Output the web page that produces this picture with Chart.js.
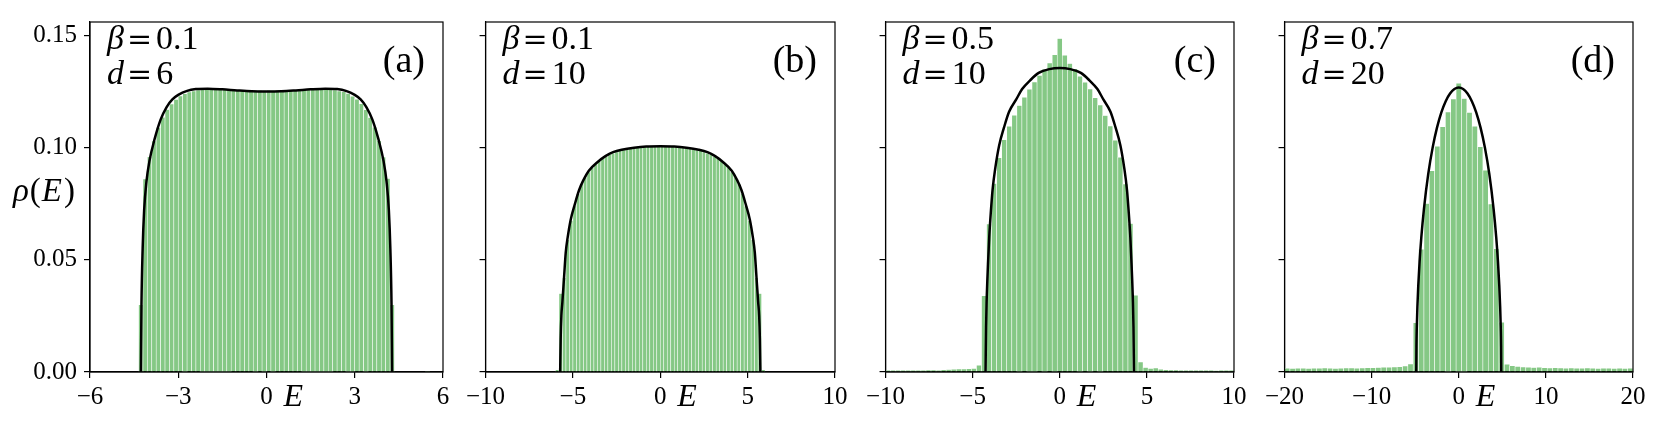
<!DOCTYPE html>
<html><head><meta charset="utf-8">
<script src="https://cdn.jsdelivr.net/npm/chart.js@4.4.1/dist/chart.umd.min.js"></script>
<style>
html,body{margin:0;padding:0;background:#fff;}
body{width:1661px;height:428px;overflow:hidden;position:relative;}
canvas{position:absolute;top:0;}
</style></head>
<body>
<canvas id="ca"></canvas><canvas id="cb"></canvas><canvas id="cc"></canvas><canvas id="cd"></canvas>
<script>
// ---------- data ----------
const yTicks = [0, 0.05, 0.10, 0.15];
const yTickLabels = ['0.00', '0.05', '0.10', '0.15'];

const xTicksA = [-6, -3, 0, 3, 6];
const xTickLabelsA = ['\u22126', '\u22123', '0', '3', '6'];
const xTicksB = [-10, -5, 0, 5, 10];
const xTickLabelsB = ['\u221210', '\u22125', '0', '5', '10'];
const xTicksC = [-10, -5, 0, 5, 10];
const xTickLabelsC = ['\u221210', '\u22125', '0', '5', '10'];
const xTicksD = [-20, -10, 0, 10, 20];
const xTickLabelsD = ['\u221220', '\u221210', '0', '10', '20'];

// histogram (a): bins start at -4.35, width 0.15
const binStartA = -4.35, binWidthA = 0.15;
const heightsA = [0.030,0.086,0.096,0.103,0.109,0.1135,0.117,0.1195,0.1215,0.123,0.124,0.1248,0.1253,0.1257,0.1259,0.126,0.126,0.1259,0.1259,0.1258,0.1258,0.1257,0.1257,0.1256,0.1256,0.1256,0.1255,0.1256,0.1255,
  0.1256,0.1255,0.1256,0.1256,0.1257,0.1256,0.1257,0.1257,0.1258,0.1258,0.1259,0.1259,0.126,0.126,0.1259,0.1257,0.1253,0.1249,0.1241,0.1229,0.1216,0.1196,0.1169,0.1134,0.1091,0.1031,0.0958,0.0862,0.030,
  null,null,null,null,null,null,null,0.0004];
const curveXA = [-4.27,-4.25,-4.21,-4.16,-4.08,-3.98,-3.8,-3.6,-3.4,-3.2,-3.0,-2.7,-2.4,-2.0,-1.5,-1.0,-0.5,0,0.5,1.0,1.5,2.0,2.4,2.7,3.0,3.2,3.4,3.6,3.8,3.98,4.08,4.16,4.21,4.25,4.27];
const curveYA = [0,0.03,0.055,0.072,0.085,0.094,0.104,0.1125,0.118,0.1215,0.1235,0.1253,0.1261,0.1263,0.126,0.1255,0.1251,0.125,0.1251,0.1255,0.126,0.1263,0.1261,0.1253,0.1235,0.1215,0.118,0.1125,0.104,0.094,0.085,0.072,0.055,0.03,0];

// histogram (b): bins start at -6.0, width 0.2
const binStartB = -6.0, binWidthB = 0.2;
const heightsB = [0.001,0.035,0.042,0.059,0.0675,0.074,0.0795,0.0838,0.0868,0.0892,0.0911,0.0927,0.094,0.0951,0.096,0.0968,0.0975,0.0981,0.0986,0.099,0.0994,0.0997,0.0999,0.1001,0.1002,0.1003,0.1004,0.1004,0.1005,0.1005,
  0.1005,0.1005,0.1004,0.1004,0.1003,0.1002,0.1001,0.0999,0.0997,0.0994,0.099,0.0986,0.0981,0.0975,0.0968,0.096,0.0951,0.094,0.0927,0.0911,0.0892,0.0868,0.0838,0.0795,0.074,0.0675,0.059,0.042,0.035,0.001];
const curveXB = [-5.73,-5.7,-5.66,-5.6,-5.5,-5.41,-5.3,-5.13,-4.9,-4.65,-4.4,-4.09,-3.6,-3.14,-2.7,-2.2,-1.5,-0.8,0,0.8,1.5,2.2,2.7,3.14,3.6,4.09,4.4,4.65,4.9,5.13,5.3,5.41,5.5,5.6,5.66,5.7,5.73];
const curveYB = [0,0.015,0.025,0.0314,0.043,0.0533,0.06,0.0678,0.0745,0.081,0.0855,0.0897,0.0935,0.0962,0.098,0.0991,0.1,0.1005,0.1006,0.1005,0.1,0.0991,0.098,0.0962,0.0935,0.0897,0.0855,0.081,0.0745,0.0678,0.06,0.0533,0.043,0.0314,0.025,0.015,0];

// histogram (c): 69 bins on [-10, 10]
const binStartC = -10, binWidthC = 20 / 69;
const heightsC = [0.0007,0.0008,0.0007,0.0008,0.0008,0.0007,0.0008,0.0008,0.0009,0.0009,0.0008,0.001,0.0011,0.0012,0.0013,0.0014,0.0015,
  0.0016,0.003,
  0.034,0.066,0.084,0.0955,0.1035,0.1095,0.1145,0.1188,0.1225,0.126,0.1293,0.1322,0.135,0.1377,0.1414,
  0.1486,
  0.1412,0.1375,0.1352,0.1318,0.1291,0.1262,0.1223,0.119,0.1143,0.1097,0.1033,0.0957,0.0838,0.0662,0.0342,
  0.0045,0.002,
  0.0016,0.0018,0.0012,0.001,0.0009,0.0009,0.0008,0.0008,0.0007,0.0008,0.0007,0.0007,0.0007,0.0006,0.0007,0.0007,0.0007];
const curveXC = [-4.26,-4.23,-4.2,-4.12,-4.05,-3.95,-3.86,-3.7,-3.48,-3.2,-2.91,-2.5,-2.16,-1.7,-1.21,-0.6,0,0.6,1.21,1.7,2.16,2.5,2.91,3.2,3.48,3.7,3.86,3.95,4.05,4.12,4.2,4.23,4.26];
const curveYC = [0,0.02,0.031,0.048,0.06,0.072,0.081,0.091,0.101,0.109,0.116,0.1215,0.1261,0.13,0.1333,0.135,0.1355,0.135,0.1333,0.13,0.1261,0.1215,0.116,0.109,0.101,0.091,0.081,0.072,0.06,0.048,0.031,0.02,0];

// histogram (d): 65 bins on [-20, 20]
const binStartD = -20, binWidthD = 40 / 65;
const heightsD = [0.0017,0.0016,0.0017,0.0017,0.0016,0.0017,0.0017,0.0018,0.0017,0.0016,0.0017,0.0018,0.0018,0.0017,0.0018,0.0019,0.0019,0.002,0.0021,0.0021,0.0022,0.0024,
  0.0027,0.0036,0.022,0.0547,0.0751,0.0897,0.1006,0.1093,0.1159,0.1217,0.1287,
  0.1219,0.1157,0.1095,0.1004,0.0899,0.0749,0.0549,0.0222,0.0035,0.0028,
  0.0025,0.0022,0.0021,0.002,0.0021,0.0019,0.0018,0.0019,0.0018,0.0017,0.0018,0.0017,0.0017,0.0018,0.0017,0.0016,0.0017,0.0017,0.0016,0.0017,0.0016,0.0017];
const curveXD = [-4.88,-4.86,-4.82,-4.75,-4.65,-4.5,-4.3,-4.0,-3.5,-3.0,-2.5,-2.0,-1.5,-1.0,-0.5,0,0.5,1.0,1.5,2.0,2.5,3.0,3.5,4.0,4.3,4.5,4.65,4.75,4.82,4.86,4.88];
const curveYD = [0,0.0114,0.0198,0.0291,0.0385,0.0491,0.06,0.0726,0.0884,0.1,0.1089,0.1157,0.1207,0.1241,0.1261,0.1268,0.1261,0.1241,0.1207,0.1157,0.1089,0.1,0.0884,0.0726,0.06,0.0491,0.0385,0.0291,0.0198,0.0114,0];

// ---------- drawing ----------
const SERIF = '"Liberation Serif", "Times New Roman", serif';
const MATHS = '"DejaVu Serif", serif';
const GREEN = 'rgba(44,160,44,0.58)';

function drawRuns(ctx, runs, x, y, size) {
  let cx = x;
  for (const r of runs) {
    ctx.font = (r.it ? 'italic ' : '') + (r.size || size) + 'px ' + (r.fam || SERIF);
    ctx.fillText(r.t, cx, y);
    cx += ctx.measureText(r.t).width + (r.gap || 0);
  }
}

const panelText = {
  id: 'panelText',
  afterDraw(chart, args, o) {
    const ctx = chart.ctx, ca = chart.chartArea, xs = chart.scales.x;
    ctx.save();
    ctx.strokeStyle = '#000';
    ctx.lineWidth = 1.2;
    ctx.strokeRect(ca.left, ca.top, ca.right - ca.left, ca.bottom - ca.top);
    ctx.fillStyle = '#000';
    ctx.textBaseline = 'alphabetic';
    ctx.textAlign = 'left';
    // annotations
    drawRuns(ctx, [{t: '\u03B2', it: true, gap: 3, size: 34}, {t: '=', gap: 4, fam: MATHS, size: 30}, {t: o.beta}], ca.left + 17, 49, 34);
    drawRuns(ctx, [{t: 'd', it: true, gap: 3}, {t: '=', gap: 4, fam: MATHS, size: 30}, {t: o.d}], ca.left + 17, 84, 34);
    ctx.font = '38px ' + SERIF;
    ctx.textAlign = 'right';
    ctx.fillText(o.tag, ca.right - 18, 72);
    // x label
    ctx.textAlign = 'left';
    ctx.font = 'italic 32px ' + SERIF;
    ctx.fillText('E', xs.getPixelForValue(0) + 17, 406);
    // y label
    if (o.ylab) {
      drawRuns(ctx, [{t: '\u03C1', it: true, gap: 1}, {t: '(', gap: 1}, {t: 'E', it: true, gap: 2}, {t: ')'}], 13, 201, 33);
    }
    ctx.restore();
  }
};

const panels = [
  {id: 'ca', left: 0, width: 460, yw: 90, rpad: 17, xmin: -6, xmax: 6, xt: xTicksA, xl: xTickLabelsA,
   bs: binStartA, bw: binWidthA, h: heightsA, cx: curveXA, cy: curveYA, beta: '0.1', d: '6', tag: '(a)', ylab: true},
  {id: 'cb', left: 462, width: 393, yw: 20, rpad: 20, xmin: -10, xmax: 10, xt: xTicksB, xl: xTickLabelsB,
   bs: binStartB, bw: binWidthB, h: heightsB, cx: curveXB, cy: curveYB, beta: '0.1', d: '10', tag: '(b)', ylab: false},
  {id: 'cc', left: 862, width: 392, yw: 20, rpad: 20, xmin: -10, xmax: 10, xt: xTicksC, xl: xTickLabelsC,
   bs: binStartC, bw: binWidthC, h: heightsC, cx: curveXC, cy: curveYC, beta: '0.5', d: '10', tag: '(c)', ylab: false},
  {id: 'cd', left: 1261, width: 398, yw: 20, rpad: 26, xmin: -20, xmax: 20, xt: xTicksD, xl: xTickLabelsD,
   bs: binStartD, bw: binWidthD, h: heightsD, cx: curveXD, cy: curveYD, beta: '0.7', d: '20', tag: '(d)', ylab: false}
];

for (const p of panels) {
  const cv = document.getElementById(p.id);
  cv.width = p.width; cv.height = 428;
  cv.style.width = p.width + 'px'; cv.style.height = '428px';
  cv.style.left = p.left + 'px';
  const bars = p.h.map((v, i) => ({x: p.bs + p.bw * (i + 0.5), y: v}));
  const curve = p.cx.map((x, i) => ({x: x, y: p.cy[i]}));
  new Chart(cv.getContext('2d'), {
    type: 'bar',
    data: {datasets: [
      {type: 'line', data: curve, borderColor: '#000', borderWidth: 2.5, pointRadius: 0,
       cubicInterpolationMode: 'monotone', fill: false, order: 0},
      {type: 'bar', data: bars, backgroundColor: GREEN, borderColor: '#ffffff', borderWidth: 0.6,
       barPercentage: 1, categoryPercentage: 1, order: 1}
    ]},
    options: {
      responsive: false, animation: false, events: [], devicePixelRatio: 1,
      layout: {padding: {left: 0, right: p.rpad, top: 14, bottom: 0}},
      plugins: {legend: {display: false}, tooltip: {enabled: false},
        panelText: {beta: p.beta, d: p.d, tag: p.tag, ylab: p.ylab}},
      scales: {
        x: {type: 'linear', min: p.xmin, max: p.xmax, offset: false,
          afterBuildTicks: s => { s.ticks = p.xt.map(v => ({value: v})); },
          afterFit: s => { s.height = 56; },
          grid: {display: true, drawOnChartArea: false, drawTicks: true, tickLength: 6, color: '#000', lineWidth: 1.2, offset: false},
          border: {display: true, color: '#000', width: 1.2},
          ticks: {color: '#000', font: {family: SERIF, size: 25}, padding: 4, maxRotation: 0, autoSkip: false,
            callback: (v, i) => p.xl[i]}},
        y: {type: 'linear', min: 0, max: 0.156,
          afterBuildTicks: s => { s.ticks = yTicks.map(v => ({value: v})); },
          afterFit: s => { s.width = p.yw; },
          grid: {display: true, drawOnChartArea: false, drawTicks: true, tickLength: 6, color: '#000', lineWidth: 1.2},
          border: {display: true, color: '#000', width: 1.2},
          ticks: {color: '#000', font: {family: SERIF, size: 25}, padding: 7, autoSkip: false,
            callback: (v, i) => p.ylab ? yTickLabels[i] : ''}}
      }
    },
    plugins: [panelText]
  });
}
</script>
</body></html>
